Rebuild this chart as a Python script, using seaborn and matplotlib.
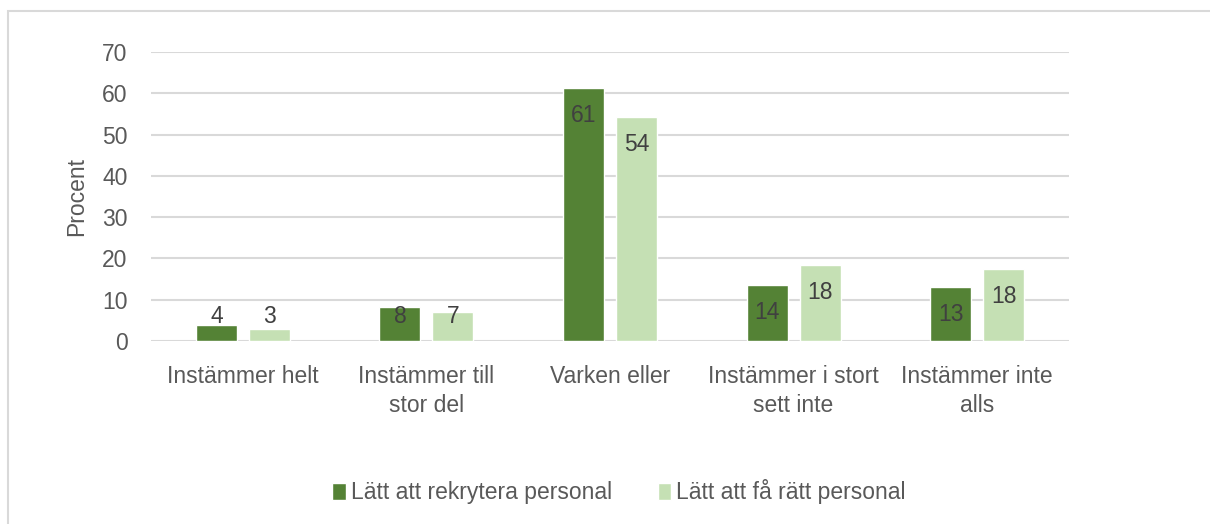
import pandas as pd
import matplotlib
matplotlib.use("Agg")
import matplotlib.pyplot as plt
from matplotlib.patches import Patch, Rectangle
import seaborn as sns

###DATA
categories = ['Instämmer helt', 'Instämmer till\nstor del', 'Varken eller',
              'Instämmer i stort\nsett inte', 'Instämmer inte\nalls']
series_names = ['Lätt att rekrytera personal', 'Lätt att få rätt personal']
rekrytera = [3.8, 8.2, 61.2, 13.6, 13.2]
ratt_personal = [2.9, 7.0, 54.2, 18.4, 17.5]
y_ticks = [0, 10, 20, 30, 40, 50, 60, 70]

###LONG FORMAT FOR SEABORN
df = pd.DataFrame({
    'Kategori': categories * 2,
    'Serie': [series_names[0]] * len(categories) + [series_names[1]] * len(categories),
    'Procent': rekrytera + ratt_personal,
})

dark_green = '#548235'
light_green = '#C5E0B4'
text_col = '#595959'
grid_col = '#D9D9D9'

sns.set_style('white')
plt.rcParams['font.family'] = ['Liberation Sans', 'DejaVu Sans']
fs = 16.5

fig = plt.figure(figsize=(12.1, 5.24), dpi=100)
ax = fig.add_axes([151 / 1210, 1 - 341 / 524, (1069 - 151) / 1210, (341 - 52) / 524])

sns.barplot(data=df, x='Kategori', y='Procent', hue='Serie', order=categories,
            hue_order=series_names, palette=[dark_green, light_green],
            width=0.577, gap=0.227, saturation=1, ax=ax, legend=False)

#DATA LABELS (INSIDE END, PUSHED UP FOR SHORT BARS)
for cont in ax.containers:
    for bar in cont:
        h = bar.get_height()
        ax.text(bar.get_x() + bar.get_width() / 2, max(h - 6.7, 6.0), f'{h:.0f}',
                ha='center', va='center', fontsize=fs, color='#404040')

ax.set_ylim(0, 70)
ax.set_xlim(-0.5, len(categories) - 0.5)
ax.set_yticks(y_ticks)
ax.yaxis.grid(True, color=grid_col, linewidth=1.5)
ax.set_axisbelow(True)
for s in ax.spines.values():
    s.set_visible(False)
ax.tick_params(axis='both', length=0, labelsize=fs, colors=text_col)
ax.tick_params(axis='x', pad=17)
ax.tick_params(axis='y', pad=17)
ax.set_xlabel('')
ax.set_ylabel('Procent', fontsize=fs, color=text_col, labelpad=10)
for lab in ax.get_xticklabels():
    lab.set_linespacing(1.35)

#LEGEND
handles = [Patch(facecolor=dark_green), Patch(facecolor=light_green)]
fig.legend(handles, series_names, loc='center', bbox_to_anchor=(619 / 1210, 1 - 492 / 524),
           ncol=2, frameon=False, fontsize=fs, labelcolor=text_col,
           handlelength=0.6, handleheight=0.75, handletextpad=0.2, columnspacing=2.0)

#CHART BORDER
fig.patches.append(Rectangle((8 / 1210, -0.2), 1.2, 1.2 - 11 / 524, transform=fig.transFigure,
                             fill=False, edgecolor=grid_col, linewidth=1.5))

fig.savefig('out.png', dpi=100)
